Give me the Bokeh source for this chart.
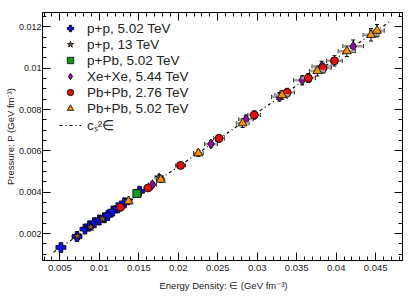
from bokeh.plotting import figure
from bokeh.models import (Legend, LegendItem, LinearAxis, FixedTicker, ColumnDataSource, Whisker,
                          TeeHead, CustomJSTickFormatter)
from bokeh.embed import file_html
from bokeh.resources import INLINE

# ---- data ----
pp502_x = [0.00513, 0.00717, 0.00818, 0.00873, 0.00937, 0.01000, 0.01064, 0.01107, 0.01171, 0.01235, 0.01319, 0.01510]
pp502_y = [0.00133, 0.00186, 0.00222, 0.00237, 0.00253, 0.00266, 0.00277, 0.00288, 0.00309, 0.00325, 0.00349, 0.00405]
pp502_xe = [0.0002, 0.0003, 0.0003, 0.0003, 0.0003, 0.0003, 0.0003, 0.0003, 0.0004, 0.0004, 0.0004, 0.0004]
pp502_ye = [0.00008, 0.0001, 0.0001, 0.0001, 0.0001, 0.0001, 0.0001, 0.0001, 0.0001, 0.0001, 0.0001, 0.00012]

pp13_x = [0.00720, 0.00890, 0.01040, 0.01250, 0.01370, 0.01757]
pp13_y = [0.00188, 0.00232, 0.00272, 0.00326, 0.00360, 0.00472]
pp13_xe = [0.0003, 0.0003, 0.0003, 0.0004, 0.0004, 0.0005]
pp13_ye = [0.0001, 0.0001, 0.0001, 0.0001, 0.0001, 0.00012]

ppb_x = [0.01476]
ppb_y = [0.00394]
ppb_xe = [0.0004]
ppb_ye = [0.00012]

xexe_x = [0.01672, 0.02415, 0.02857, 0.03281, 0.03570, 0.03815, 0.04216]
xexe_y = [0.00437, 0.00634, 0.00753, 0.00862, 0.00942, 0.01009, 0.01107]
xexe_xe = [0.0005, 0.0008, 0.0009, 0.0010, 0.0011, 0.0012, 0.0013]
xexe_ye = [0.00012, 0.00015, 0.0002, 0.0002, 0.00022, 0.00025, 0.0003]

pb276_x = [0.01268, 0.01617, 0.02029, 0.02516, 0.02962, 0.03379, 0.03647, 0.03834, 0.03978]
pb276_y = [0.00328, 0.00421, 0.00530, 0.00661, 0.00774, 0.00883, 0.00953, 0.01001, 0.01036]
pb276_xe = [0.0004, 0.0005, 0.0006, 0.0007, 0.0008, 0.0009, 0.0009, 0.0010, 0.0010]
pb276_ye = [0.0001, 0.00012, 0.00015, 0.00018, 0.0002, 0.0002, 0.00022, 0.00024, 0.00025]

pb502_x = [0.01370, 0.01778, 0.02254, 0.02815, 0.03315, 0.03761, 0.04135, 0.04441, 0.04517]
pb502_y = [0.00357, 0.00461, 0.00589, 0.00734, 0.00870, 0.00987, 0.01083, 0.01162, 0.01182]
pb502_xe = [0.0004, 0.0005, 0.0006, 0.0008, 0.0009, 0.0010, 0.0011, 0.0010, 0.0009]
pb502_ye = [0.0001, 0.00012, 0.00015, 0.0002, 0.0002, 0.00024, 0.00026, 0.0003, 0.0003]

cs2 = 0.262
line_eps = [0.0042, 0.0467]

x_ticks = [0.005, 0.01, 0.015, 0.02, 0.025, 0.03, 0.035, 0.04, 0.045]
x_tick_labels = ["0.005", "0.01", "0.015", "0.02", "0.025", "0.03", "0.035", "0.04", "0.045"]
y_ticks = [0.002, 0.004, 0.006, 0.008, 0.01, 0.012]
y_tick_labels = ["0.002", "0.004", "0.006", "0.008", "0.01", "0.012"]
x_minor = [0.003 + 0.001 * i for i in range(46)]
y_minor = [0.0005 * i for i in range(1, 26)]

FONT = "Liberation Sans"

p = figure(width=415, height=300, x_range=(0.0028, 0.0484), y_range=(0.0007, 0.0127),
           output_backend="svg", toolbar_location=None,
           min_border_left=42, min_border_right=13, min_border_top=12, min_border_bottom=40)
p.grid.visible = False
p.outline_line_color = "black"
p.background_fill_color = "white"
p.border_fill_color = "white"

xt = FixedTicker(ticks=x_ticks, minor_ticks=x_minor)
yt = FixedTicker(ticks=y_ticks, minor_ticks=y_minor)

for ax, tk, labs, vals in [(p.xaxis[0], xt, x_tick_labels, x_ticks), (p.yaxis[0], yt, y_tick_labels, y_ticks)]:
    ax.ticker = tk
    ax.major_label_overrides = {v: s for v, s in zip(vals, labs)}
    ax.major_tick_in = 8
    ax.major_tick_out = 0
    ax.minor_tick_in = 4
    ax.minor_tick_out = 0
    ax.axis_line_color = "black"
    ax.major_label_text_font = FONT
    ax.major_label_text_color = "#222222"
    ax.axis_label_text_font = FONT
    ax.axis_label_text_font_size = "9.5px"
    ax.axis_label_text_font_style = "normal"
    ax.axis_label_text_color = "#222222"

p.xaxis[0].major_label_text_font_size = "9.5px"
p.yaxis[0].major_label_text_font_size = "9px"
p.xaxis[0].axis_label = "Energy Density: \u2208 (GeV fm\u207b\u00b3)"
p.yaxis[0].axis_label = "Pressure: P (GeV fm\u207b\u00b3)"
p.xaxis[0].major_label_standoff = 4
p.xaxis[0].axis_label_standoff = 6
p.yaxis[0].major_label_standoff = 1
p.yaxis[0].axis_label_standoff = 0

blank = CustomJSTickFormatter(code="return ''")
for loc, tk in [("above", xt), ("right", yt)]:
    a = LinearAxis(ticker=tk, major_tick_in=8, major_tick_out=0, minor_tick_in=4, minor_tick_out=0,
                   formatter=blank, major_label_standoff=0, axis_line_color="black")
    p.add_layout(a, loc)

# c_s^2 * eps line
line_r = p.line(line_eps, [cs2 * e for e in line_eps], line_color="black", line_width=1.2, line_dash="3 3 1 3")

series = [
    ("p+p, 5.02 TeV", pp502_x, pp502_y, pp502_xe, pp502_ye, "plus", "#1010e0", 10),
    ("p+p, 13 TeV", pp13_x, pp13_y, pp13_xe, pp13_ye, "star", "#8b5a3c", 9),
    ("p+Pb, 5.02 TeV", ppb_x, ppb_y, ppb_xe, ppb_ye, "square", "#13991a", 8),
    ("Xe+Xe, 5.44 TeV", xexe_x, xexe_y, xexe_xe, xexe_ye, "diamond", "#8e0f9e", 10),
    ("Pb+Pb, 2.76 TeV", pb276_x, pb276_y, pb276_xe, pb276_ye, "circle", "#dd1111", 8),
    ("Pb+Pb, 5.02 TeV", pb502_x, pb502_y, pb502_xe, pb502_ye, "triangle", "#f5900c", 9),
]

items = []
for name, xs, ys, xe, ye, mk, col, sz in series:
    src = ColumnDataSource(dict(x=xs, y=ys,
                                xl=[a - b for a, b in zip(xs, xe)], xu=[a + b for a, b in zip(xs, xe)],
                                yl=[a - b for a, b in zip(ys, ye)], yu=[a + b for a, b in zip(ys, ye)]))
    p.segment(x0="xl", y0="y", x1="xu", y1="y", source=src, line_color="#a0a0a0", line_width=2.5)
    wx = Whisker(source=src, base="y", lower="xl", upper="xu", dimension="width",
                 line_color="black", line_width=1,
                 upper_head=TeeHead(size=4, line_color="black"), lower_head=TeeHead(size=4, line_color="black"))
    wy = Whisker(source=src, base="x", lower="yl", upper="yu", dimension="height",
                 line_color="black", line_width=1,
                 upper_head=TeeHead(size=4, line_color="black"), lower_head=TeeHead(size=4, line_color="black"))
    p.add_layout(wx)
    p.add_layout(wy)
    r = p.scatter("x", "y", source=src, marker=mk, size=sz, fill_color=col, line_color="black", line_width=0.8)
    items.append(LegendItem(label=name, renderers=[r]))

items.append(LegendItem(label="c\u209b\u00b2\u2208", renderers=[line_r]))

leg = Legend(items=items, border_line_alpha=0, background_fill_alpha=0,
             label_text_font=FONT, label_text_font_size="13.5px", label_text_color="#222222",
             spacing=0, label_height=16, glyph_height=16, glyph_width=22, padding=0,
             margin=0, label_standoff=6)
leg.location = (17, 126)
p.add_layout(leg, "center")

open("out.html", "w").write(file_html(p, INLINE))
